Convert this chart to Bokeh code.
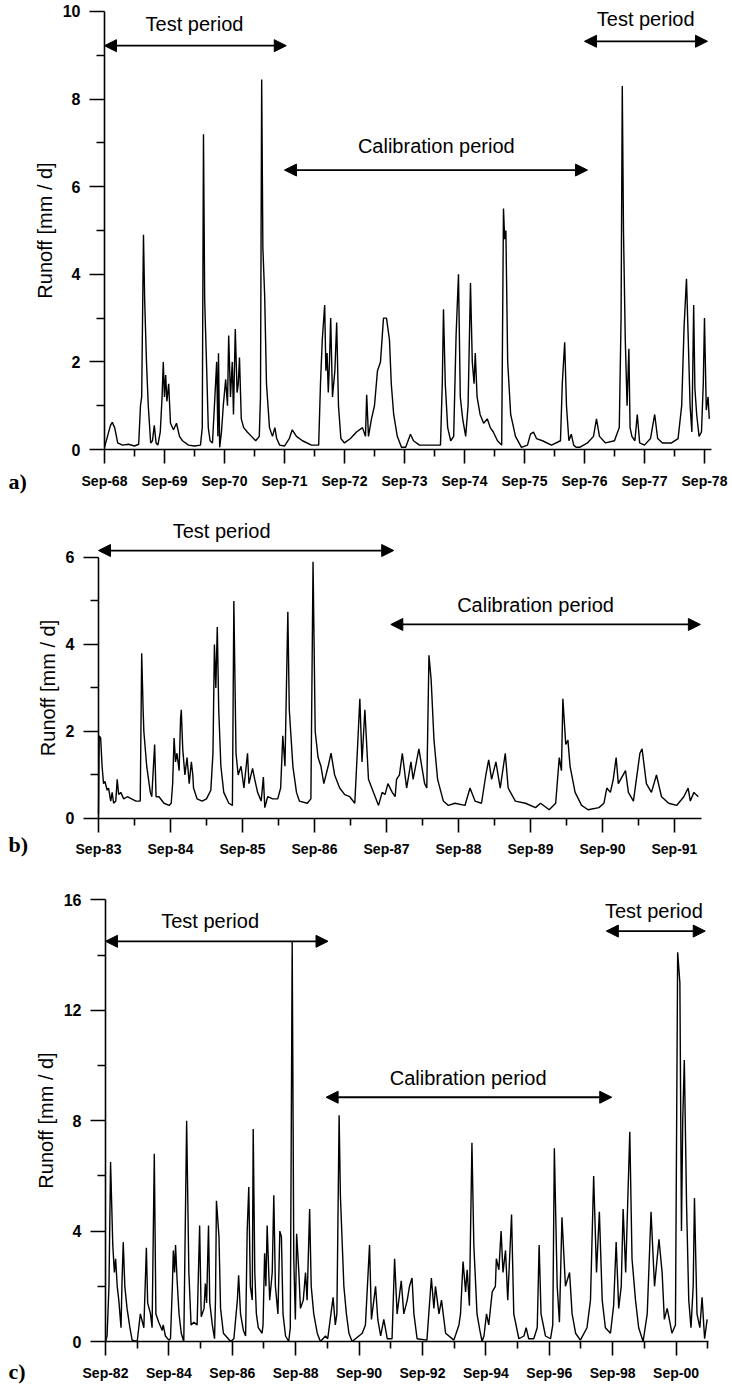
from bokeh.plotting import figure
from bokeh.models import Range1d, FixedTicker, Label, Arrow, NormalHead
from bokeh.layouts import column
from bokeh.embed import file_html
from bokeh.resources import INLINE

# ---------------- data (time in years after the first September) ----------------
labels_a = ["Sep-68", "Sep-69", "Sep-70", "Sep-71", "Sep-72", "Sep-73",
            "Sep-74", "Sep-75", "Sep-76", "Sep-77", "Sep-78"]
t_a = [0.00, 0.05, 0.10, 0.13, 0.17, 0.22, 0.30, 0.40, 0.50, 0.57,
       0.60, 0.62, 0.65, 0.67, 0.70, 0.73, 0.77, 0.80, 0.83, 0.86,
       0.89, 0.93, 0.96, 0.98, 1.00, 1.02, 1.04, 1.07, 1.10, 1.15,
       1.20, 1.25, 1.30, 1.40, 1.50, 1.60, 1.63, 1.65, 1.67, 1.70,
       1.73, 1.76, 1.80, 1.84, 1.87, 1.89, 1.90, 1.92, 1.95, 1.98,
       2.02, 2.05, 2.07, 2.10, 2.13, 2.15, 2.18, 2.21, 2.23, 2.25,
       2.28, 2.32, 2.38, 2.45, 2.52, 2.58, 2.60, 2.62, 2.64, 2.67,
       2.70, 2.75, 2.80, 2.84, 2.87, 2.92, 3.00, 3.08, 3.13, 3.20,
       3.30, 3.45, 3.57, 3.60, 3.63, 3.67, 3.69, 3.71, 3.73, 3.75,
       3.77, 3.80, 3.84, 3.87, 3.90, 3.94, 4.00, 4.10, 4.20, 4.30,
       4.35, 4.37, 4.40, 4.45, 4.50, 4.55, 4.60, 4.65, 4.70, 4.75,
       4.78, 4.82, 4.88, 4.95, 5.02, 5.10, 5.15, 5.25, 5.40, 5.60,
       5.63, 5.65, 5.68, 5.72, 5.77, 5.82, 5.86, 5.90, 5.93, 5.97,
       6.02, 6.06, 6.10, 6.13, 6.16, 6.18, 6.21, 6.26, 6.32, 6.38,
       6.43, 6.48, 6.55, 6.62, 6.65, 6.67, 6.69, 6.72, 6.77, 6.85,
       6.95, 7.05, 7.10, 7.15, 7.20, 7.30, 7.45, 7.60, 7.63, 7.67,
       7.70, 7.74, 7.78, 7.82, 7.86, 7.92, 8.05, 8.15, 8.20, 8.25,
       8.35, 8.50, 8.58, 8.61, 8.63, 8.65, 8.68, 8.71, 8.74, 8.76,
       8.79, 8.84, 8.88, 8.92, 9.00, 9.10, 9.17, 9.22, 9.30, 9.45,
       9.56, 9.62, 9.66, 9.70, 9.73, 9.76, 9.79, 9.82, 9.84, 9.87,
       9.91, 9.95, 9.98, 10.00, 10.03, 10.06, 10.08]
q_a = [0.05, 0.30, 0.55, 0.62, 0.50, 0.15, 0.10, 0.12, 0.08, 0.12,
       1.00, 1.20, 4.90, 3.40, 2.00, 1.00, 0.15, 0.20, 0.55, 0.15,
       0.10, 0.40, 1.20, 2.00, 1.20, 1.70, 1.10, 1.50, 0.60, 0.45,
       0.60, 0.30, 0.20, 0.10, 0.08, 0.10, 0.50, 7.20, 3.40, 2.00,
       0.50, 0.20, 0.15, 1.20, 2.00, 0.30, 2.20, 0.05, 0.40, 1.00,
       1.60, 1.00, 2.60, 1.20, 2.00, 0.80, 2.75, 1.30, 1.50, 2.10,
       0.70, 0.50, 0.40, 0.30, 0.20, 0.30, 1.20, 8.45, 4.60, 3.50,
       1.50, 0.50, 0.30, 0.50, 0.25, 0.10, 0.08, 0.25, 0.45, 0.30,
       0.20, 0.10, 0.10, 1.50, 2.50, 3.30, 1.80, 2.20, 1.30, 2.00,
       3.00, 1.20, 1.80, 2.90, 1.00, 0.25, 0.15, 0.25, 0.40, 0.50,
       0.30, 1.25, 0.30, 0.70, 1.00, 1.80, 2.00, 3.00, 3.00, 2.50,
       1.50, 0.80, 0.30, 0.05, 0.05, 0.35, 0.20, 0.10, 0.10, 0.10,
       1.50, 3.20, 1.50, 0.50, 0.20, 0.30, 2.60, 4.00, 1.20, 0.70,
       0.30, 1.00, 3.80, 2.00, 1.50, 2.20, 1.20, 0.80, 0.60, 0.70,
       0.50, 0.40, 0.20, 0.10, 5.50, 4.80, 5.00, 2.00, 0.80, 0.30,
       0.05, 0.10, 0.35, 0.40, 0.25, 0.20, 0.10, 0.20, 1.50, 2.45,
       1.00, 0.20, 0.35, 0.10, 0.05, 0.05, 0.15, 0.30, 0.70, 0.30,
       0.15, 0.20, 0.50, 3.00, 8.30, 5.00, 2.50, 1.00, 2.30, 0.50,
       0.30, 0.20, 0.80, 0.15, 0.10, 0.25, 0.80, 0.25, 0.15, 0.15,
       0.25, 1.00, 2.80, 3.90, 2.50, 1.00, 0.40, 3.30, 1.40, 0.80,
       0.30, 0.40, 1.50, 3.00, 0.90, 1.20, 0.70]

labels_b = ["Sep-83", "Sep-84", "Sep-85", "Sep-86", "Sep-87",
            "Sep-88", "Sep-89", "Sep-90", "Sep-91"]
t_b = [0.00, 0.01, 0.03, 0.05, 0.07, 0.09, 0.12, 0.14, 0.17, 0.19,
       0.21, 0.24, 0.26, 0.28, 0.31, 0.35, 0.40, 0.46, 0.52, 0.58,
       0.60, 0.62, 0.63, 0.67, 0.72, 0.74, 0.78, 0.80, 0.84, 0.91,
       0.98, 1.01, 1.03, 1.05, 1.07, 1.09, 1.12, 1.14, 1.15, 1.17,
       1.20, 1.23, 1.26, 1.29, 1.31, 1.32, 1.37, 1.44, 1.50, 1.56,
       1.59, 1.61, 1.63, 1.65, 1.67, 1.70, 1.74, 1.81, 1.86, 1.88,
       1.91, 1.94, 1.98, 2.02, 2.07, 2.09, 2.14, 2.17, 2.21, 2.26,
       2.29, 2.31, 2.35, 2.42, 2.49, 2.53, 2.56, 2.59, 2.63, 2.65,
       2.70, 2.75, 2.79, 2.90, 2.95, 2.98, 3.01, 3.05, 3.09, 3.13,
       3.19, 3.23, 3.28, 3.35, 3.42, 3.49, 3.56, 3.60, 3.63, 3.66,
       3.70, 3.75, 3.82, 3.89, 3.94, 3.98, 4.02, 4.08, 4.12, 4.14,
       4.18, 4.22, 4.28, 4.34, 4.37, 4.45, 4.53, 4.56, 4.59, 4.62,
       4.66, 4.71, 4.79, 4.86, 4.95, 5.09, 5.16, 5.23, 5.32, 5.38,
       5.42, 5.46, 5.52, 5.58, 5.65, 5.69, 5.79, 5.93, 6.07, 6.14,
       6.26, 6.35, 6.40, 6.43, 6.45, 6.49, 6.52, 6.55, 6.62, 6.71,
       6.80, 6.95, 7.02, 7.06, 7.11, 7.15, 7.19, 7.22, 7.32, 7.36,
       7.43, 7.52, 7.55, 7.61, 7.68, 7.75, 7.82, 7.92, 8.03, 8.13,
       8.19, 8.22, 8.27, 8.33]
q_b = [0.10, 1.90, 1.85, 1.20, 0.80, 0.85, 0.65, 0.70, 0.40, 0.60,
       0.35, 0.40, 0.90, 0.55, 0.60, 0.45, 0.50, 0.45, 0.40, 0.40,
       3.80, 2.50, 2.00, 1.20, 0.60, 0.50, 1.70, 0.50, 0.50, 0.35,
       0.30, 0.35, 0.80, 1.85, 1.30, 1.50, 1.10, 2.30, 2.50, 1.60,
       1.00, 1.40, 0.80, 1.30, 1.00, 0.70, 0.45, 0.40, 0.45, 0.65,
       1.50, 4.00, 3.00, 4.40, 2.50, 1.20, 0.60, 0.35, 0.30, 5.00,
       1.50, 1.00, 1.20, 0.70, 1.50, 0.80, 1.15, 0.90, 0.60, 0.40,
       0.95, 0.25, 0.50, 0.45, 0.45, 0.70, 1.90, 1.20, 4.75, 2.50,
       1.20, 0.60, 0.40, 0.35, 0.45, 5.90, 2.00, 1.40, 1.20, 0.80,
       1.20, 1.50, 1.00, 0.70, 0.55, 0.50, 0.35, 1.70, 2.75, 1.30,
       2.50, 0.90, 0.60, 0.30, 0.60, 0.55, 0.80, 0.60, 0.50, 0.90,
       1.00, 1.50, 0.70, 1.30, 0.90, 1.60, 0.80, 0.70, 3.75, 3.20,
       1.80, 0.90, 0.40, 0.30, 0.35, 0.30, 0.70, 0.40, 0.35, 1.00,
       1.35, 0.90, 1.30, 0.70, 1.50, 0.70, 0.40, 0.35, 0.25, 0.35,
       0.20, 0.35, 1.40, 1.10, 2.75, 1.70, 1.80, 1.20, 0.60, 0.30,
       0.20, 0.25, 0.35, 0.70, 0.60, 0.90, 1.40, 0.80, 1.10, 0.60,
       0.40, 1.50, 1.60, 0.80, 0.60, 1.00, 0.50, 0.35, 0.30, 0.50,
       0.70, 0.40, 0.60, 0.50]

labels_c = ["Sep-82", "Sep-84", "Sep-86", "Sep-88", "Sep-90",
            "Sep-92", "Sep-94", "Sep-96", "Sep-98", "Sep-00"]
t_c = [0.00, 0.05, 0.11, 0.16, 0.23, 0.28, 0.32, 0.37, 0.42, 0.49,
       0.52, 0.56, 0.61, 0.68, 0.77, 0.84, 1.00, 1.10, 1.21, 1.29,
       1.33, 1.42, 1.47, 1.54, 1.59, 1.68, 1.79, 1.82, 1.89, 2.00,
       2.05, 2.11, 2.14, 2.18, 2.21, 2.26, 2.32, 2.39, 2.47, 2.56,
       2.63, 2.70, 2.79, 2.89, 2.97, 3.02, 3.11, 3.15, 3.19, 3.25,
       3.29, 3.37, 3.44, 3.47, 3.50, 3.58, 3.63, 3.72, 3.95, 4.05,
       4.16, 4.20, 4.26, 4.35, 4.42, 4.47, 4.52, 4.57, 4.63, 4.66,
       4.71, 4.76, 4.82, 4.94, 4.97, 5.02, 5.06, 5.10, 5.18, 5.26,
       5.31, 5.36, 5.44, 5.50, 5.55, 5.60, 5.68, 5.78, 5.83, 5.89,
       5.94, 5.99, 6.03, 6.10, 6.15, 6.24, 6.31, 6.36, 6.44, 6.49,
       6.57, 6.68, 6.78, 6.94, 7.01, 7.18, 7.25, 7.30, 7.37, 7.41,
       7.52, 7.60, 7.68, 7.78, 8.10, 8.20, 8.33, 8.39, 8.52, 8.59,
       8.68, 8.78, 8.89, 9.04, 9.12, 9.20, 9.33, 9.41, 9.52, 9.59,
       9.67, 9.73, 9.83, 10.14, 10.28, 10.36, 10.41, 10.52, 10.60, 10.73,
       10.99, 11.15, 11.20, 11.28, 11.36, 11.41, 11.48, 11.56, 11.62, 11.72,
       11.81, 11.88, 11.94, 12.02, 12.09, 12.20, 12.30, 12.33, 12.41, 12.48,
       12.54, 12.62, 12.69, 12.81, 12.88, 13.04, 13.20, 13.27, 13.35, 13.51,
       13.62, 13.68, 13.74, 13.88, 14.04, 14.11, 14.16, 14.25, 14.32, 14.40,
       14.51, 14.64, 14.72, 14.83, 14.98, 15.19, 15.30, 15.40, 15.49, 15.58,
       15.67, 15.77, 15.93, 16.03, 16.11, 16.19, 16.27, 16.33, 16.41, 16.54,
       16.61, 16.72, 16.82, 16.96, 17.09, 17.21, 17.32, 17.46, 17.56, 17.63,
       17.72, 17.87, 17.98, 18.05, 18.12, 18.17, 18.21, 18.26, 18.33, 18.40,
       18.47, 18.54, 18.58, 18.66, 18.75, 18.82, 18.90, 18.98]
q_c = [0.00, 0.20, 2.00, 6.50, 3.50, 2.50, 3.00, 2.00, 1.50, 0.50,
       2.10, 3.60, 2.00, 1.20, 0.50, 0.05, 0.00, 1.00, 0.50, 3.40,
       1.40, 1.00, 0.50, 6.80, 1.00, 0.70, 0.40, 0.60, 0.20, 0.05,
       0.10, 2.00, 3.30, 2.50, 3.50, 2.20, 1.00, 0.30, 0.00, 8.00,
       2.50, 0.60, 0.70, 0.60, 4.20, 0.90, 1.20, 2.10, 1.40, 4.20,
       1.40, 0.60, 0.10, 1.50, 5.10, 3.80, 1.20, 0.30, 0.00, 0.10,
       1.50, 2.40, 1.00, 0.40, 0.20, 4.00, 5.60, 2.00, 1.50, 7.70,
       2.50, 1.00, 0.50, 0.30, 0.60, 3.20, 2.00, 4.20, 1.50, 2.50,
       5.30, 2.00, 1.00, 4.00, 3.80, 1.00, 0.20, 0.00, 0.50, 14.50,
       3.00, 0.80, 3.90, 2.50, 1.20, 1.50, 2.50, 1.50, 4.80, 2.00,
       1.00, 0.30, 0.00, 0.20, 0.10, 1.60, 0.60, 1.00, 8.20, 5.30,
       2.00, 1.00, 0.30, 0.00, 0.30, 0.60, 3.50, 0.80, 2.00, 0.80,
       0.20, 0.80, 0.10, 0.10, 3.00, 1.00, 2.20, 1.00, 1.50, 2.00,
       2.30, 1.00, 0.10, 0.05, 2.30, 1.20, 2.00, 1.00, 1.50, 0.30,
       0.05, 0.60, 1.00, 2.90, 1.80, 2.60, 1.30, 7.20, 3.50, 1.00,
       0.40, 0.00, 0.20, 1.00, 0.60, 1.80, 2.00, 3.00, 2.60, 4.00,
       2.50, 3.30, 1.50, 4.60, 1.00, 0.10, 0.20, 0.50, 0.10, 0.10,
       0.50, 3.50, 1.00, 0.20, 0.10, 0.60, 7.00, 2.00, 0.70, 4.50,
       2.00, 2.50, 1.00, 0.30, 0.05, 0.50, 1.50, 6.00, 2.50, 4.70,
       1.50, 0.50, 0.30, 1.30, 3.60, 1.20, 2.00, 4.80, 2.50, 7.60,
       3.00, 1.50, 0.50, 0.00, 1.00, 4.70, 2.00, 3.70, 2.50, 0.80,
       1.20, 0.30, 0.60, 14.10, 13.00, 4.00, 8.00, 10.20, 5.00, 1.50,
       0.50, 2.00, 5.20, 1.00, 0.50, 1.60, 0.10, 0.80]

# model periods (start, end in years after the first September)
periods_a_names = ["Test period", "Calibration period", "Test period"]
periods_a_start = [0.0, 3.0, 8.0]
periods_a_end = [3.03, 8.05, 10.05]
periods_b_names = ["Test period", "Calibration period"]
periods_b_start = [0.0, 4.06]
periods_b_end = [4.10, 8.36]
periods_c_names = ["Test period", "Calibration period", "Test period"]
periods_c_start = [0.0, 6.96, 15.8]
periods_c_end = [7.02, 15.97, 18.92]

assert len(t_a) == len(q_a) and len(t_b) == len(q_b) and len(t_c) == len(q_c)

SANS = "Liberation Sans"
SERIF = "Liberation Serif"
W = 732


def panel(t, q, xlabels, xstep, x_lo, x_hi, x_axis_end, y_lo, y_hi,
          ymax_tick, ymajor, yminor, height, names, starts, ends,
          arrow_y, text_y, text_x, tag, tag_x, tag_y):
    p = figure(width=W, height=height,
               x_range=Range1d(x_lo, x_hi), y_range=Range1d(y_lo, y_hi),
               output_backend="svg", toolbar_location=None,
               min_border_left=0, min_border_right=0,
               min_border_top=0, min_border_bottom=0)
    p.outline_line_color = None
    p.xgrid.visible = False
    p.ygrid.visible = False
    p.background_fill_color = "white"
    p.border_fill_color = "white"

    p.line(t, q, line_color="black", line_width=1.4)

    xt = [i * xstep for i in range(len(xlabels))]
    xminor = [v + xstep / 2 for v in xt if v + xstep / 2 < x_axis_end]
    xa = p.xaxis[0]
    xa.fixed_location = 0
    xa.bounds = (0, x_axis_end)
    xa.ticker = FixedTicker(ticks=xt, minor_ticks=xminor)
    xa.major_label_overrides = {v: lab for v, lab in zip(xt, xlabels)}
    xa.axis_line_width = 1.6
    xa.major_tick_out = 14
    xa.major_tick_in = 0
    xa.minor_tick_out = 7
    xa.minor_tick_in = 0
    xa.major_tick_line_width = 1.6
    xa.minor_tick_line_width = 1.6
    xa.major_label_text_font = SANS
    xa.major_label_text_font_size = "14px"
    xa.major_label_text_font_style = "bold"
    xa.major_label_text_color = "black"
    xa.major_label_standoff = 9

    ya = p.yaxis[0]
    ya.fixed_location = 0
    ya.bounds = (0, ymax_tick)
    ya.ticker = FixedTicker(ticks=ymajor, minor_ticks=yminor)
    ya.axis_line_width = 1.6
    ya.major_tick_out = 15
    ya.major_tick_in = 0
    ya.minor_tick_out = 8
    ya.minor_tick_in = 0
    ya.major_tick_line_width = 1.6
    ya.minor_tick_line_width = 1.6
    ya.major_label_text_font = SANS
    ya.major_label_text_font_size = "16px"
    ya.major_label_text_font_style = "bold"
    ya.major_label_text_color = "black"
    ya.major_label_standoff = 9
    ya.axis_label = "Runoff [mm / d]"
    ya.axis_label_text_font = SANS
    ya.axis_label_text_font_size = "20px"
    ya.axis_label_text_font_style = "normal"
    ya.axis_label_text_color = "black"
    ya.axis_label_standoff = 4

    for name, s, e, ay, ty, tx in zip(names, starts, ends, arrow_y, text_y, text_x):
        p.add_layout(Arrow(x_start=s, y_start=ay, x_end=e, y_end=ay,
                           line_color="black", line_width=1.8,
                           start=NormalHead(size=12, fill_color="black", line_color="black"),
                           end=NormalHead(size=12, fill_color="black", line_color="black")))
        p.add_layout(Label(x=tx, y=ty, text=name, text_font=SANS,
                           text_font_size="20px", text_color="black",
                           text_align="center", text_baseline="middle"))

    p.add_layout(Label(x=tag_x, y=tag_y, text=tag, text_font=SERIF,
                       text_font_size="22px", text_font_style="bold",
                       text_color="black",
                       text_align="left", text_baseline="middle"))
    return p


# panel a: canvas 495 px high; axis origin at (104, 449) px
pa = panel(t_a, q_a, labels_a, 1, -1.733, 10.467, 10.12, -1.05, 10.251,
           10, [0, 2, 4, 6, 8, 10], [1, 3, 5, 7, 9], 495,
           periods_a_names, periods_a_start, periods_a_end,
           [9.22, 6.38, 9.32], [9.72, 6.92, 9.82], [1.50, 5.53, 9.02],
           "a)", -1.6, -0.72)

# panel b: canvas 363 px high; axis origin at (98, 323) px
pb = panel(t_b, q_b, labels_b, 1, -1.361, 8.806, 8.37, -0.92, 7.425,
           6, [0, 2, 4, 6], [1, 3, 5], 363,
           periods_b_names, periods_b_start, periods_b_end,
           [6.16, 4.46], [6.62, 4.90], [1.71, 6.07],
           "b)", -1.25, -0.6)

# panel c: canvas 528 px high; axis origin at (105, 483) px
pc = panel(t_c, q_c, labels_c, 2, -3.312, 19.78, 19.02, -1.63, 17.5,
           16, [0, 4, 8, 12, 16], [2, 6, 10, 14], 528,
           periods_c_names, periods_c_start, periods_c_end,
           [14.5, 8.85, 14.87], [15.25, 9.54, 15.6], [3.3, 11.44, 17.3],
           "c)", -3.06, -1.07)

layout = column(pa, pb, pc, spacing=0)
open("out.html", "w").write(file_html(layout, INLINE))
